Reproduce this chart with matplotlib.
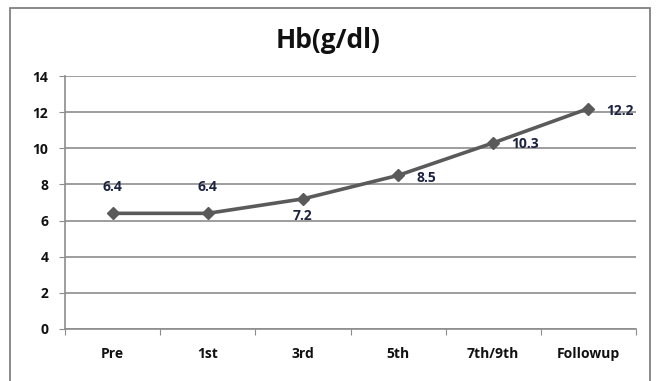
import matplotlib
matplotlib.use("Agg")
import matplotlib.pyplot as plt
from matplotlib.patches import Rectangle

categories = ["Pre", "1st", "3rd", "5th", "7th/9th", "Followup"]
hb_values = [6.4, 6.4, 7.2, 8.5, 10.3, 12.2]
y_ticks = [0, 2, 4, 6, 8, 10, 12, 14]

plt.rcParams['font.family'] = ['Open Sans', 'DejaVu Sans']

fig = plt.figure(figsize=(6.57, 3.81), dpi=100)
ax = fig.add_axes([65/657, 1-329/381, (636-65)/657, (329-76)/381])

x = [i + 0.5 for i in range(len(categories))]
ax.plot(x, hb_values, color="#5a5a5a", lw=2.6, marker="D", markersize=6.5,
        markerfacecolor="#5a5a5a", markeredgecolor="#5a5a5a", zorder=3)

label_color = "#1c2340"
offsets = [(0, 19, 'center'), (0, 19, 'center'), (0, -12, 'center'),
           (13, -2, 'left'), (13, -1, 'left'), (13, -2, 'left')]
for xi, v, (dx, dy, ha) in zip(x, hb_values, offsets):
    ax.annotate(f"{v:.1f}", (xi, v), xytext=(dx, dy), textcoords="offset points",
                ha=ha, va="center", fontsize=10, fontweight="bold", color=label_color)

ax.set_xlim(0, len(categories))
ax.set_ylim(0, 14)
ax.set_yticks(y_ticks)
ax.set_yticklabels([str(t) for t in y_ticks], fontsize=10, fontweight="bold", color="#111111")
ax.set_xticks(range(len(categories) + 1))
ax.set_xticklabels([])
ax.set_xticks(x, minor=True)
ax.set_xticklabels(categories, minor=True, fontsize=10, fontweight="bold", color="#111111")
ax.tick_params(axis='x', which='minor', length=0, pad=13)
ax.tick_params(axis='x', which='major', length=4, color="#8c8c8c", direction='out')
ax.tick_params(axis='y', length=4, color="#8c8c8c", pad=8)

ax.grid(axis='y', color="#8c8c8c", lw=1.2)
ax.set_axisbelow(True)
for s in ['top', 'right']:
    ax.spines[s].set_visible(False)
for s in ['left', 'bottom']:
    ax.spines[s].set_color("#8c8c8c")
    ax.spines[s].set_linewidth(1.2)

fig.text(328/657, 1-40/381, "Hb(g/dl)", ha="center", va="center",
         fontsize=19, fontweight="bold", color="#111111")

border = Rectangle((10/657, -0.05), (650-10)/657, 1-8/381+0.05,
                   transform=fig.transFigure, fill=False, edgecolor="#777777", lw=1.2)
fig.patches.append(border)

fig.savefig("out.png", dpi=100)
